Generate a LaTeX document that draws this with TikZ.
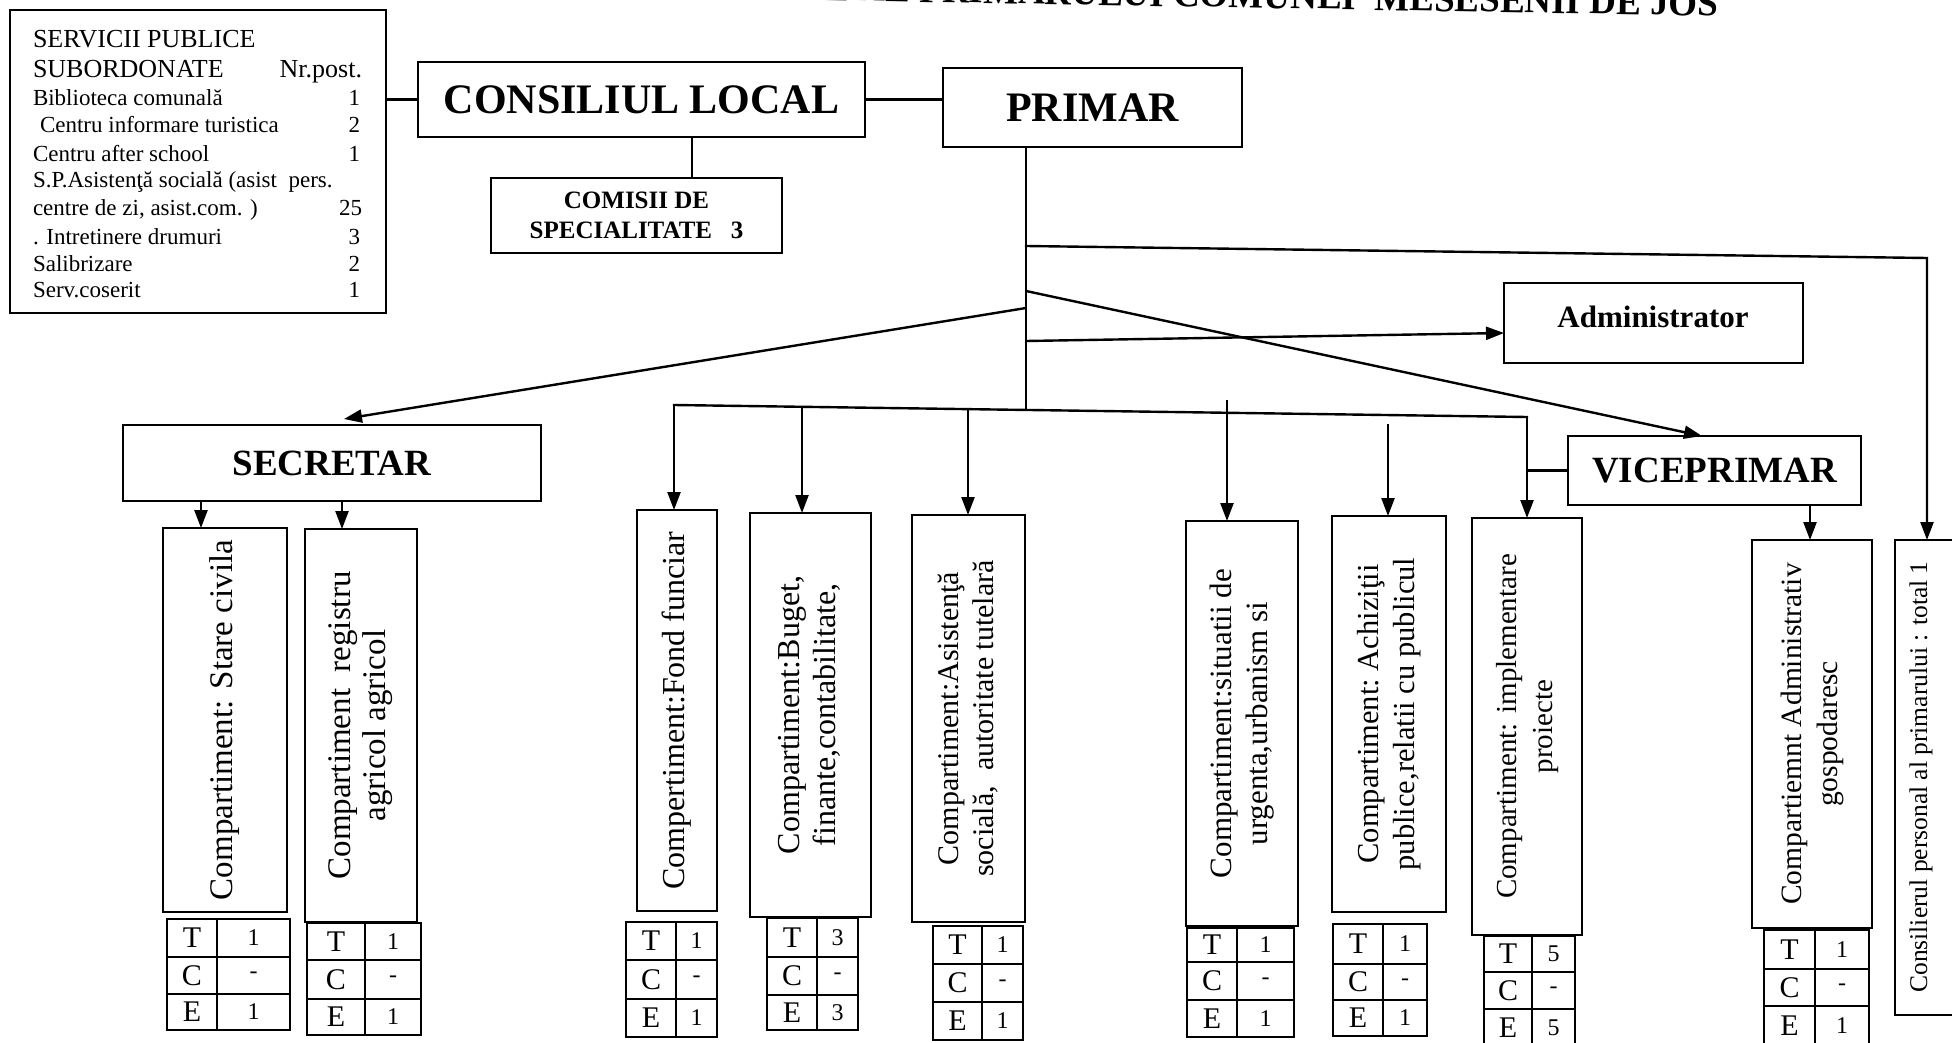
\documentclass[tikz,border=0pt]{standalone}
\usepackage{fontspec}
\setmainfont{Liberation Serif}
\usepackage{graphicx}
\usetikzlibrary{arrows.meta}
\newcommand\fsz[2]{\fontsize{#1}{#2}\selectfont}
\newcommand\vtext[3]{\rotatebox{90}{\fsz{#1}{#2}\begin{tabular}{@{}c@{}}#3\end{tabular}}}
\begin{document}
\begin{tikzpicture}[x=1pt,y=-1pt,
  box/.style={draw, line width=2.4pt, inner sep=0pt, outer sep=0pt},
  conn/.style={line width=2.4pt, line cap=rect},
  arr/.style={line width=2.4pt, -{Triangle[length=18pt,width=13pt]}},
  grid/.style={line width=2pt},
  lbl/.style={inner sep=0pt, outer sep=0pt},
  svbig/.style={lbl, font=\fsz{26}{28}},
  svsm/.style={lbl, font=\fsz{23}{26}},
  headb/.style={font=\bfseries\fsz{42}{46}},
  midb/.style={font=\bfseries\fsz{37}{40}}]
\useasboundingbox (0,0) rectangle (1952,1043);
\fill[white] (0,0) rectangle (1952,1043);
\begin{scope}
\clip (0,0) rectangle (1952,1043);
% title (cut off by the top edge)
\node[lbl, anchor=base east, rotate=-1, font=\bfseries\fsz{37}{40}] (title) at (1718,16) {ATE AL PRIMARULUI COMUNEI \ MESESENII DE JOS};

% services box
\node[box, minimum width=376, minimum height=303] (serv) at (198,161.5) {};
\node[svbig, anchor=base west] (sv1) at (33,48) {SERVICII PUBLICE};
\node[svbig, anchor=base west] (sv2) at (33,78) {SUBORDONATE};
\node[svbig, anchor=base east] (nr) at (362,78) {Nr.post.};
\node[svsm, anchor=base west] (sv3) at (33,106) {Biblioteca comunală};
\node[svsm, anchor=base west] (sv4) at (40,133) {Centru informare turistica};
\node[svsm, anchor=base west] (sv5) at (33,162) {Centru after school};
\node[svsm, anchor=base west] (sv6) at (33,188) {S.P.Asistenţă socială (asist\ \ pers.};
\node[svsm, anchor=base west] (sv7) at (33,216) {centre de zi, asist.com. )};
\node[svsm, anchor=base west] (sv8) at (33,244) {. Intretinere drumuri};
\node[svsm, anchor=base west] (sv9) at (33,272) {Salibrizare};
\node[svsm, anchor=base west] (sv10) at (33,298) {Serv.coserit};
\node[svsm, anchor=base east] (n3) at (360,106) {1};
\node[svsm, anchor=base east] (n4) at (360,133) {2};
\node[svsm, anchor=base east] (n5) at (360,162) {1};
\node[svsm, anchor=base east] (n7) at (362,216) {25};
\node[svsm, anchor=base east] (n8) at (360,244) {3};
\node[svsm, anchor=base east] (n9) at (360,272) {2};
\node[svsm, anchor=base east] (n10) at (360,298) {1};

% main boxes
\node[box, headb, minimum width=447, minimum height=75] (cl) at (641.5,99.5) {CONSILIUL LOCAL};
\node[box, headb, minimum width=299, minimum height=79] (primar) at (1092.5,107.5) {PRIMAR};
\node[box, align=center, font=\bfseries\fsz{25}{30}, minimum width=291, minimum height=75] (comisii) at (636.5,215.5) {COMISII DE\\SPECIALITATE\ \ \ 3};
\node[box, minimum width=299, minimum height=80] (admin) at (1653.5,323) {};
\node[lbl, anchor=base, font=\bfseries\fsz{31}{34}] (admint) at (1653,327) {Administrator};
\node[box, midb, minimum width=418, minimum height=76] (secretar) at (332,463) {SECRETAR};
\node[box, midb, minimum width=293, minimum height=69] (vice) at (1714.5,470.5) {VICEPRIMAR};

% vertical compartment boxes
\node[box, minimum width=124, minimum height=384] (stare) at (225,720) {\vtext{33}{36}{Compartiment: Stare civila}};
\node[box, minimum width=112, minimum height=393] (registru) at (361,725.5) {\vtext{33}{35}{Compartiment\ \ registru\\agricol agricol}};
\node[box, minimum width=80, minimum height=401] (fond) at (677,710.5) {\vtext{32}{35}{Compertiment:Fond funciar}};
\node[box, minimum width=121, minimum height=404] (buget) at (810.5,715) {\vtext{32}{36}{Compartiment:Buget,\\finante,contabilitate,}};
\node[box, minimum width=113, minimum height=407] (asist) at (968.5,718.5) {\vtext{30}{35}{Compartiment:Asistenţă\\socială,\ \ autoritate tutelară}};
\node[box, minimum width=112, minimum height=405] (situatii) at (1242,723.5) {\vtext{31}{36}{Compartiment:situatii de\\urgenta,urbanism si}};
\node[box, minimum width=114, minimum height=396] (achiz) at (1389,714) {\vtext{30.5}{36}{Compartiment:\ Achiziţii\\publice,relatii cu publicul}};
\node[box, minimum width=110, minimum height=417] (impl) at (1527,726.5) {\vtext{29}{36}{Compartiment: implementare\\proiecte}};
\node[box, minimum width=120, minimum height=388] (admgosp) at (1812,734) {\vtext{29.5}{36}{Compartiemnt Administrativ\\gospodaresc}};
\node[box, minimum width=70, minimum height=475] (consil) at (1930,777.5) {};
\node[lbl] (consilt) at (1921,777) {\rotatebox{90}{\fsz{25.5}{28}Consilierul personal al primarului : total 1}};

% T / C / E tables
\foreach \nm/\xa/\xb/\xc/\ya/\yb/\yc/\yd/\vt/\ve in {
  stare/167/217/290/919/957/994/1030/1/1,
  registru/307/365/421/923/960/999/1035/1/1,
  fond/626/676/717/922/960/999/1037/1/1,
  buget/767/817/858/918/957/995/1030/3/3,
  asist/933/982/1023/926/964/1002/1040/1/1,
  situatii/1187/1237/1294/928/962/1000/1037/1/1,
  achiz/1333/1383/1427/924/964/1000/1036/1/1,
  impl/1484/1532/1575/936/972/1009/1046/5/5,
  admgosp/1764/1815/1869/930/969/1006/1045/1/1}{
  \draw[grid] (\xa,\ya) rectangle (\xc,\yd);
  \draw[grid] (\xb,\ya) -- (\xb,\yd);
  \draw[grid] (\xa,\yb) -- (\xc,\yb);
  \draw[grid] (\xa,\yc) -- (\xc,\yc);
  \node[lbl, font=\fsz{30}{32}] (\nm-T) at ({(\xa+\xb)/2},{(\ya+\yb)/2}) {T};
  \node[lbl, font=\fsz{30}{32}] (\nm-C) at ({(\xa+\xb)/2},{(\yb+\yc)/2}) {C};
  \node[lbl, font=\fsz{30}{32}] (\nm-E) at ({(\xa+\xb)/2},{(\yc+\yd)/2}) {E};
  \node[lbl, font=\fsz{24}{26}] (\nm-vt) at ({(\xb+\xc)/2},{(\ya+\yb)/2}) {\vt};
  \node[lbl, font=\fsz{24}{26}] (\nm-vc) at ({(\xb+\xc)/2},{(\yb+\yc)/2}) {-};
  \node[lbl, font=\fsz{24}{26}] (\nm-ve) at ({(\xb+\xc)/2},{(\yc+\yd)/2}) {\ve};
}

% connectors
\coordinate (cx) at (692,0);
\draw[conn] (serv.east |- cl.west) -- (cl.west);
\draw[conn] (cl.east) -- (cl.east -| primar.west);
\draw[conn] (cl.south -| cx) -- (comisii.north -| cx);

\coordinate (jb) at (1026,410);
\draw[conn] (primar.south -| jb) -- (jb);
\coordinate (jk) at (1026,246);
\coordinate (kc) at (1927,258);
\draw[arr, line cap=rect] (jk) -- (kc) -- (kc |- consil.north);
\coordinate (ja) at (1026,341);
\path (admin.west) ++(0,10) coordinate (ta);
\draw[arr] (ja) -- (ta);
\coordinate (jl) at (1026,308);
\path (secretar.north) ++(12,-6) coordinate (ts);
\draw[arr] (jl) -- (ts);
\coordinate (jr) at (1026,291);
\path (vice.north) ++(-12.5,0) coordinate (tv);
\draw[arr] (jr) -- (tv);

\coordinate (b1) at (674,405);
\coordinate (b2) at (802,407);
\coordinate (b3) at (968,409);
\coordinate (b6) at (1527,417);
\coordinate (s4) at (1227,400);
\coordinate (s5) at (1388,424);
\draw[conn] (b1) -- (b6);
\draw[arr] (b1) -- (b1 |- fond.north);
\draw[arr] (b2) -- (b2 |- buget.north);
\draw[arr] (b3) -- (b3 |- asist.north);
\draw[arr] (s4) -- (s4 |- situatii.north);
\draw[arr] (s5) -- (s5 |- achiz.north);
\draw[arr] (b6) -- (b6 |- impl.north);
\draw[conn] (vice.west -| b6) -- (vice.west);

\coordinate (d1) at (201,0);
\coordinate (d2) at (342,0);
\coordinate (d3) at (1810,0);
\draw[arr] (secretar.south -| d1) -- (stare.north -| d1);
\draw[arr] (secretar.south -| d2) -- (registru.north -| d2);
\draw[arr] (vice.south -| d3) -- (admgosp.north -| d3);
\end{scope}
\end{tikzpicture}
\end{document}
